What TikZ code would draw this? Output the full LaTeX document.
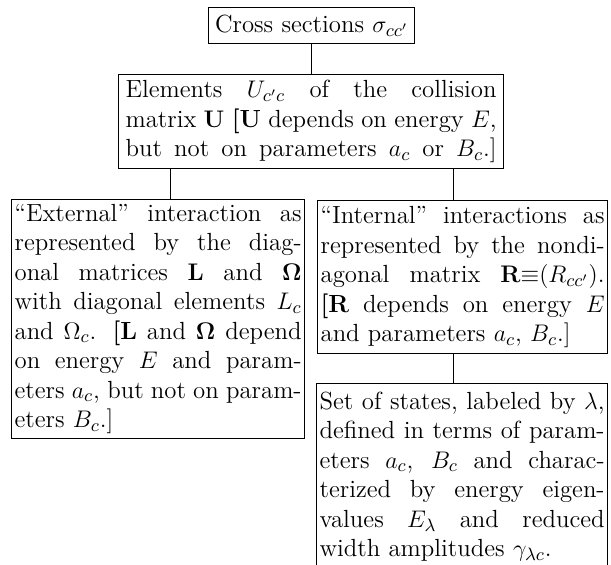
\documentclass[tikz,border=0pt]{standalone}
\usepackage{amsmath,amssymb}
\newcommand{\fullline}[1]{\makebox[\linewidth][s]{\spaceskip=0pt\xspaceskip=0pt #1}\\}

\begin{document}
\begin{tikzpicture}[
    x=0.5pt, y=-0.5pt,
    box/.style={draw, line width=0.6pt, inner xsep=1.5pt, inner ysep=1pt, align=left, anchor=north west,
        font=\fontsize{12.4}{14.75}\selectfont},
    link/.style={line width=0.6pt}
]
\useasboundingbox (0,0) rectangle (611,564);

% Cross sections
\node[box, align=center, text width=100pt, minimum height=18pt] (cross) at (208,7) {Cross sections $\sigma_{cc'}$};

% Collision matrix
\node[box, inner xsep=3.5pt, text width=185.5pt, minimum height=47pt] (elem) at (118,74)
    {\fullline{Elements $U_{c'c}$ of the collision}
     \fullline{matrix $\mathbf{U}$ \textbf{[U} depends on energy $E$,}
     \fullline{but not on parameters $a_c$ or $B_c$.]}};

% External part
\node[box, text width=143.5pt, minimum height=119.5pt] (ext) at (11,199)
    {\fullline{``External'' interaction as}
     \fullline{represented by the diag-}
     \fullline{onal matrices $\mathbf{L}$ and $\mathbf{\Omega}$}
     \fullline{with diagonal elements $L_c$}
     \fullline{and $\Omega_c$. \textbf{[L} and $\mathbf{\Omega}$ depend}
     \fullline{on energy $E$ and param-}
     \fullline{eters $a_c$, but not on param-}
     eters $B_c$.]};

% Internal part
\node[box, text width=142pt, minimum height=76.5pt] (int) at (317,200)
    {\fullline{``Internal'' interactions as}
     \fullline{represented by the nondi-}
     \fullline{agonal matrix $\mathbf{R}{\equiv}(R_{cc'})$.}
     \fullline{\textbf{[R} depends on energy $E$}
     and parameters $a_c$, $B_c$.]};

% States
\node[box, text width=142.5pt, minimum height=93pt] (set) at (316,383)
    {\fullline{Set of states, labeled by $\lambda$,}
     \fullline{defined in terms of param-}
     \fullline{eters $a_c$, $B_c$ and charac-}
     \fullline{terized by energy eigen-}
     \fullline{values $E_\lambda$ and reduced}
     width amplitudes $\gamma_{\lambda c}$.};

% Lines
\draw[link] (cross.south) -- (cross.south |- elem.north);
\draw[link] ([xshift=6.25pt]ext.north) -- ([xshift=6.25pt]ext.north |- elem.south);
\draw[link] ([xshift=-4.5pt]int.north) -- ([xshift=-4.5pt]int.north |- elem.south);
\draw[link] ([xshift=-4.5pt]int.south) -- ([xshift=-4.5pt]int.south |- set.north);
\end{tikzpicture}
\end{document}
